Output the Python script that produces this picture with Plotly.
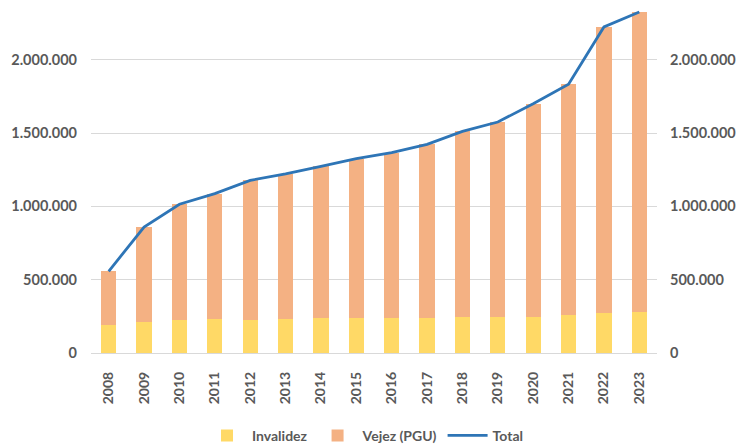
import plotly.graph_objects as go

years = [str(y) for y in range(2008, 2024)]
invalidez = [189000, 211000, 223000, 232000, 223000, 232000, 237000, 239000,
             237000, 239000, 243000, 243000, 243000, 257000, 271000, 282000]
total = [557000, 859000, 1014000, 1087000, 1177000, 1221000, 1273000, 1325000,
         1366000, 1423000, 1511000, 1575000, 1700000, 1832000, 2223000, 2325000]
vejez = [t - i for t, i in zip(total, invalidez)]

tick_vals = [0, 500000, 1000000, 1500000, 2000000]
tick_text = ["0", "500.000", "1.000.000", "1.500.000", "2.000.000"]

FONT = "Lato"
TXT = "#595959"

fig = go.Figure()
fig.add_trace(go.Bar(x=years, y=invalidez, name="Invalidez",
                     marker=dict(color="#FFD966", line=dict(width=0))))
fig.add_trace(go.Bar(x=years, y=vejez, name="Vejez (PGU)",
                     marker=dict(color="#F4B183", line=dict(width=0))))
fig.add_trace(go.Scatter(x=years, y=total, name="Total", mode="lines",
                         line=dict(color="#2E75B6", width=2.8), yaxis="y2"))

yr = [0, 2400000]
fig.update_layout(
    width=749, height=447,
    margin=dict(l=91, r=92, t=1, b=94),
    paper_bgcolor="white", plot_bgcolor="white",
    barmode="stack", bargap=0.57,
    font=dict(family=FONT, size=14, color=TXT, weight="bold"),
    xaxis=dict(type="category", tickangle=-90, showgrid=False,
               showline=False, ticks="", ticklabelstandoff=15,
               tickfont=dict(family=FONT, size=14, color=TXT, weight="bold")),
    yaxis=dict(range=yr, tickvals=tick_vals, ticktext=tick_text,
               showgrid=True, gridcolor="#D9D9D9", gridwidth=1,
               zeroline=True, zerolinecolor="#D9D9D9", zerolinewidth=1,
               ticks="", ticklabelstandoff=13, showline=False,
               tickfont=dict(family=FONT, size=14.5, color=TXT, weight="bold")),
    yaxis2=dict(range=yr, tickvals=tick_vals, ticktext=tick_text,
                overlaying="y", side="right", showgrid=False, zeroline=False,
                ticks="", ticklabelstandoff=12, showline=False,
                tickfont=dict(family=FONT, size=14.5, color=TXT, weight="bold")),
    legend=dict(orientation="h", x=0.485, xanchor="center",
                yref="container", y=0.025, yanchor="middle",
                font=dict(family=FONT, size=14, color=TXT, weight="bold"),
                itemwidth=40, traceorder="normal", bgcolor="rgba(0,0,0,0)"),
    showlegend=True,
)

fig.write_html("out.html")
